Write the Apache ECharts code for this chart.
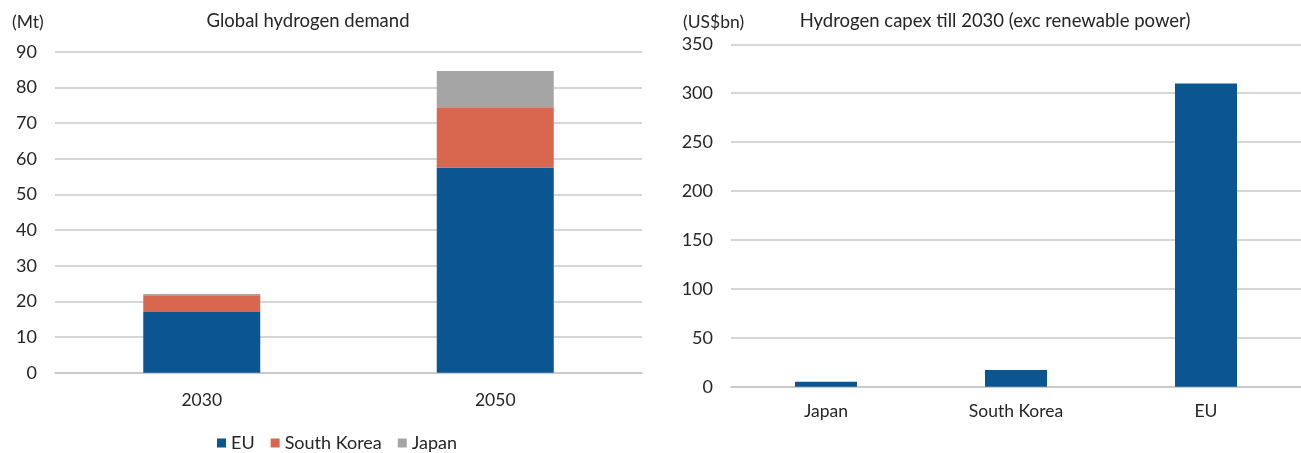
<!DOCTYPE html>
<html>
<head>
<meta charset="utf-8">
<script src="https://cdn.jsdelivr.net/npm/echarts@6/dist/echarts.min.js"></script>
<style>
  html, body { margin: 0; padding: 0; background: #fff; }
  #chart { width: 1301px; height: 453px; }
</style>
</head>
<body>
<div id="chart"></div>
<script>
// Global hydrogen demand (Mt), stacked by region
const demandYears = ['2030', '2050'];
const euDemand = [17, 57.5];
const koreaDemand = [4.7, 16.9];
const japanDemand = [0.4, 10.2];

// Hydrogen capex till 2030 (US$bn)
const capexRegions = ['Japan', 'South Korea', 'EU'];
const capexValues = [5, 17, 310];

const FONT = 'Lato, "Open Sans", sans-serif';
const TEXT = '#262626';
const GRID = '#c8c8c8';
const C_EU = '#0b5591';
const C_KR = '#d9664f';
const C_JP = '#a5a5a5';

const chart = echarts.init(document.getElementById('chart'), null, { renderer: 'canvas' });

const tickStyle = { color: TEXT, fontFamily: FONT, fontSize: 18 };
const catStyle = { color: TEXT, fontFamily: FONT, fontSize: 17.5 };
const unitStyle = { fontFamily: FONT, fontSize: 17.5, fontWeight: 'normal', color: TEXT };
const titleStyle = { fontFamily: FONT, fontSize: 18.5, fontWeight: 'normal', color: TEXT };

chart.setOption({
  animation: false,
  backgroundColor: '#ffffff',
  textStyle: { fontFamily: FONT, color: TEXT },
  title: [
    { text: '(Mt)', left: 7, top: 8, textStyle: unitStyle },
    { text: 'Global hydrogen demand', left: 303, top: 7, textAlign: 'center', textStyle: titleStyle },
    { text: '(US$bn)', left: 678, top: 8, textStyle: unitStyle },
    { text: 'Hydrogen capex till 2030 (exc renewable power)', left: 990, top: 7, textAlign: 'center', textStyle: titleStyle }
  ],
  legend: {
    data: ['EU', 'South Korea', 'Japan'],
    left: 212,
    top: 429,
    icon: 'rect',
    itemWidth: 9,
    itemHeight: 9,
    itemGap: 16,
    textStyle: { fontFamily: FONT, fontSize: 18, color: TEXT }
  },
  grid: [
    { left: 55, right: 659, top: 51.7, bottom: 80.3 },
    { left: 731, right: 0, top: 44.3, bottom: 66.3 }
  ],
  xAxis: [
    {
      type: 'category', gridIndex: 0, data: demandYears,
      axisLine: { lineStyle: { color: GRID, width: 1.5 } },
      axisTick: { show: false },
      axisLabel: Object.assign({ margin: 19 }, catStyle)
    },
    {
      type: 'category', gridIndex: 1, data: capexRegions,
      axisLine: { lineStyle: { color: GRID, width: 1.5 } },
      axisTick: { show: false },
      axisLabel: Object.assign({ margin: 16 }, catStyle)
    }
  ],
  yAxis: [
    {
      type: 'value', gridIndex: 0, min: 0, max: 90, interval: 10,
      axisLine: { show: false }, axisTick: { show: false },
      axisLabel: Object.assign({ margin: 18 }, tickStyle),
      splitLine: { lineStyle: { color: GRID, width: 1.5 } }
    },
    {
      type: 'value', gridIndex: 1, min: 0, max: 350, interval: 50,
      axisLine: { show: false }, axisTick: { show: false },
      axisLabel: Object.assign({ margin: 18 }, tickStyle),
      splitLine: { lineStyle: { color: GRID, width: 1.5 } }
    }
  ],
  series: [
    { name: 'EU', type: 'bar', stack: 'demand', xAxisIndex: 0, yAxisIndex: 0, data: euDemand, barWidth: 117, itemStyle: { color: C_EU } },
    { name: 'South Korea', type: 'bar', stack: 'demand', xAxisIndex: 0, yAxisIndex: 0, data: koreaDemand, barWidth: 117, itemStyle: { color: C_KR } },
    { name: 'Japan', type: 'bar', stack: 'demand', xAxisIndex: 0, yAxisIndex: 0, data: japanDemand, barWidth: 117, itemStyle: { color: C_JP } },
    { name: 'Capex', type: 'bar', xAxisIndex: 1, yAxisIndex: 1, data: capexValues, barWidth: 62, itemStyle: { color: C_EU } }
  ]
});
</script>
</body>
</html>
